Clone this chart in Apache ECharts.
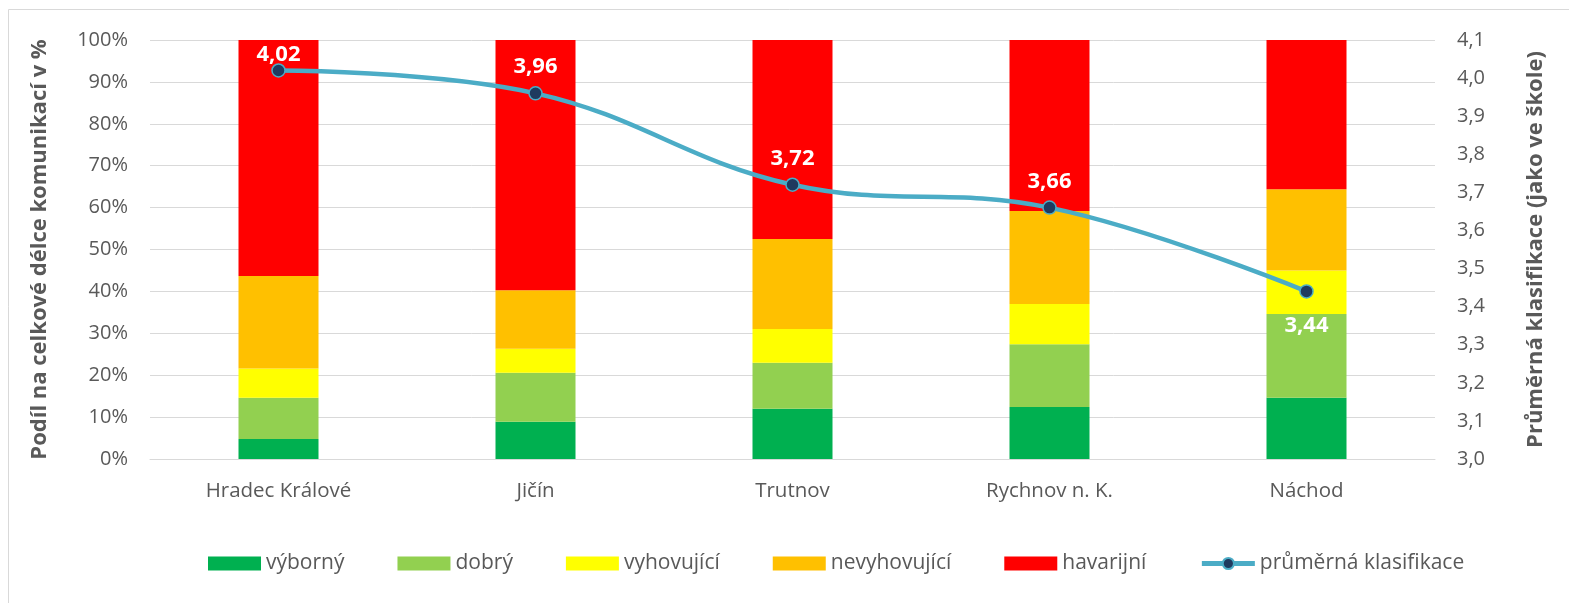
<!DOCTYPE html>
<html>
<head>
<meta charset="utf-8">
<script src="https://cdn.jsdelivr.net/npm/echarts@6/dist/echarts.min.js"></script>
<style>
	html, body { margin: 0; padding: 0; background: #fff; }
	#chart { width: 1569px; height: 603px; }
</style>
</head>
<body>
<div id="chart"></div>
<script>
// districts
const districts = ['Hradec Králové', 'Jičín', 'Trutnov', 'Rychnov n. K.', 'Náchod']

// share of total road length in %, by condition
const vyborny = [4.8, 8.9, 12.0, 12.4, 14.6]
const dobry = [9.8, 11.7, 11.0, 15.0, 20.0]
const vyhovujici = [7.0, 5.7, 8.0, 9.6, 10.4]
const nevyhovujici = [22.1, 14.0, 21.5, 22.2, 19.4]
const havarijni = [56.3, 59.7, 47.5, 40.8, 35.6]

// average grade (like at school)
const prumer = [4.02, 3.96, 3.72, 3.66, 3.44]

const FONT = '"Open Sans", "Noto Sans", sans-serif'
const GRAY = '#595959'

const comma = (v, d) => v.toFixed(d).replace('.', ',')

const chart = echarts.init(document.getElementById('chart'))

const barSeries = (name, data, color) => ({
	name: name,
	type: 'bar',
	stack: 'total',
	barWidth: 80,
	itemStyle: { color: color },
	data: data,
})

// label of the first point sits lower (kept inside the plot), last one under the point
const lineData = prumer.map((v, i) => {
	if (i === 0) return { value: v, label: { distance: -3 } }
	if (i === prumer.length - 1) return { value: v, label: { position: 'bottom', distance: 16 } }
	return v
})

const option = {
	animation: false,
	textStyle: { fontFamily: FONT },
	graphic: [
		{
			type: 'rect',
			shape: { x: 8.5, y: 9.5, width: 1600, height: 700 },
			style: { fill: 'none', stroke: '#D9D9D9', lineWidth: 1 },
			silent: true,
		},
	],
	grid: { left: 150, right: 134, top: 40, bottom: 144 },
	legend: {
		top: 548,
		left: 203,
		itemWidth: 53,
		itemHeight: 14,
		itemGap: 53,
		textStyle: { fontFamily: FONT, fontSize: 21, color: GRAY },
		data: [
			{ name: 'výborný', icon: 'rect' },
			{ name: 'dobrý', icon: 'rect' },
			{ name: 'vyhovující', icon: 'rect' },
			{ name: 'nevyhovující', icon: 'rect' },
			{ name: 'havarijní', icon: 'rect' },
			{ name: 'průměrná klasifikace', itemStyle: { borderWidth: 2 }, lineStyle: { width: 5 } },
		],
	},
	xAxis: {
		type: 'category',
		data: districts,
		axisLine: { lineStyle: { color: '#D9D9D9', width: 1 } },
		axisTick: { show: false },
		axisLabel: { color: GRAY, fontSize: 20.5, margin: 22, fontFamily: FONT },
	},
	yAxis: [
		{
			type: 'value',
			min: 0,
			max: 100,
			interval: 10,
			name: 'Podíl na celkové délce komunikací v %',
			nameLocation: 'middle',
			nameGap: 99,
			nameTextStyle: { color: GRAY, fontSize: 22, fontWeight: 'bold', fontFamily: FONT },
			axisLabel: { color: GRAY, fontSize: 20, margin: 22, formatter: '{value}%', fontFamily: FONT },
			splitLine: { lineStyle: { color: '#D9D9D9', width: 1 } },
			axisLine: { show: false },
			axisTick: { show: false },
		},
		{
			type: 'value',
			min: 3.0,
			max: 4.1,
			interval: 0.1,
			name: 'Průměrná klasifikace (jako ve škole)',
			nameLocation: 'middle',
			nameGap: 90,
			nameTextStyle: { color: GRAY, fontSize: 22, fontWeight: 'bold', fontFamily: FONT },
			axisLabel: { color: GRAY, fontSize: 20, margin: 22, formatter: (v) => comma(v, 1), fontFamily: FONT },
			splitLine: { show: false },
			axisLine: { show: false },
			axisTick: { show: false },
		},
	],
	series: [
		barSeries('výborný', vyborny, '#00B050'),
		barSeries('dobrý', dobry, '#92D050'),
		barSeries('vyhovující', vyhovujici, '#FFFF00'),
		barSeries('nevyhovující', nevyhovujici, '#FFC000'),
		barSeries('havarijní', havarijni, '#FF0000'),
		{
			name: 'průměrná klasifikace',
			type: 'line',
			yAxisIndex: 1,
			smooth: 0.4,
			symbol: 'circle',
			symbolSize: 13,
			lineStyle: { color: '#4BACC6', width: 4.5 },
			itemStyle: { color: '#1F3A5F', borderColor: '#4BACC6', borderWidth: 1.5 },
			label: {
				show: true,
				position: 'top',
				distance: 8,
				color: '#fff',
				fontSize: 22,
				fontWeight: 'bold',
				fontFamily: FONT,
				formatter: (p) => comma(p.value, 2),
			},
			data: lineData,
			z: 10,
		},
	],
}

chart.setOption(option)
</script>
</body>
</html>
